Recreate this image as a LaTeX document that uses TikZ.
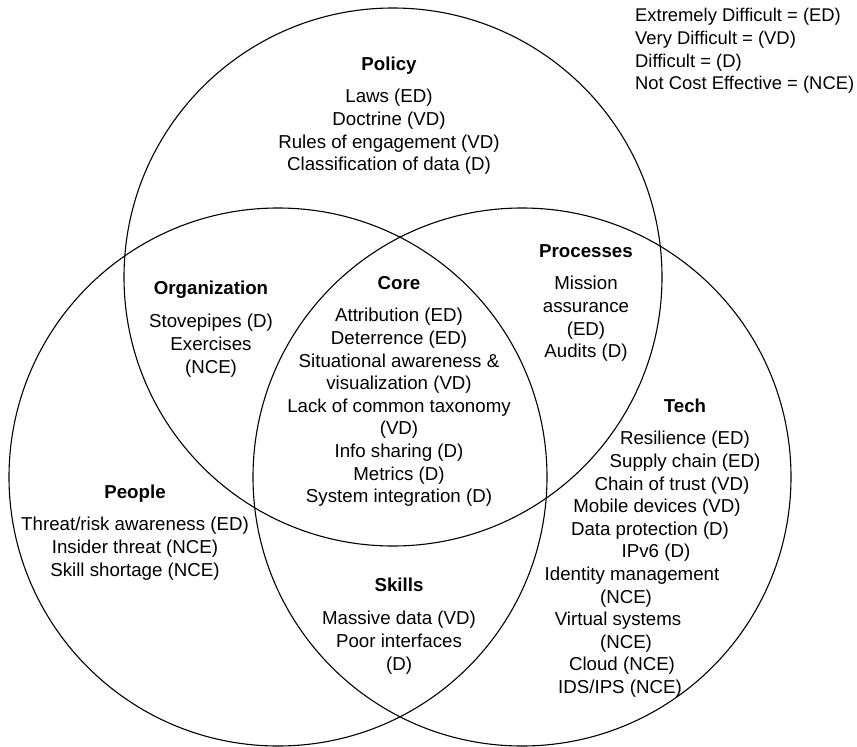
\documentclass[tikz,border=0pt]{standalone}
\usepackage{fontspec}
\setmainfont{Liberation Sans}
\tikzset{
  ring/.style={circle, draw=black, line width=1.1pt, minimum size=538pt, inner sep=0pt},
  txt/.style={inner sep=0pt, text height=13.7pt, text depth=3.9pt, font=\fontsize{18.7}{22.6}\selectfont},
  ttl/.style={txt, font=\fontsize{18.7}{22.6}\selectfont\bfseries},
  leg/.style={inner sep=0pt, text height=13.5pt, text depth=3.8pt, anchor=west, font=\fontsize{18.4}{22}\selectfont},
}
\begin{document}
\begin{tikzpicture}[x=1pt,y=-1pt]
\useasboundingbox (0,0) rectangle (857,747);
% circles
\node[ring] (cPolicy) at (393,277) {};
\node[ring] (cPeople) at (278,477) {};
\node[ring] (cTech) at (522,477) {};
% legend
\node[leg] (leg1) at (635,17) {Extremely Difficult = (ED)};
\node[leg] (leg2) at (635,40) {Very Difficult = (VD)};
\node[leg] (leg3) at (635,62.5) {Difficult = (D)};
\node[leg] (leg4) at (635,85) {Not Cost Effective = (NCE)};
% Policy
\node[ttl] (polT) at (389,66) {Policy};
\node[txt] (pol1) at (389,98) {Laws (ED)};
\node[txt] (pol2) at (389,120.6) {Doctrine (VD)};
\node[txt] (pol3) at (389,143.2) {Rules of engagement (VD)};
\node[txt] (pol4) at (389,165.8) {Classification of data (D)};
% Organization
\node[ttl] (orgT) at (211,290) {Organization};
\node[txt] (org1) at (211,323) {Stovepipes (D)};
\node[txt] (org2) at (211,345.6) {Exercises};
\node[txt] (org3) at (211,368.2) {(NCE)};
% Core
\node[ttl] (coreT) at (399,285) {Core};
\node[txt] (core1) at (399,317) {Attribution (ED)};
\node[txt] (core2) at (399,339.6) {Deterrence (ED)};
\node[txt] (core3) at (399,362.2) {Situational awareness \&};
\node[txt] (core4) at (399,384.8) {visualization (VD)};
\node[txt] (core5) at (399,407.4) {Lack of common taxonomy};
\node[txt] (core6) at (399,430) {(VD)};
\node[txt] (core7) at (399,452.6) {Info sharing (D)};
\node[txt] (core8) at (399,475.2) {Metrics (D)};
\node[txt] (core9) at (399,497.8) {System integration (D)};
% Processes
\node[ttl] (procT) at (586,253) {Processes};
\node[txt] (proc1) at (586,285) {Mission};
\node[txt] (proc2) at (586,307.6) {assurance};
\node[txt] (proc3) at (586,330.2) {(ED)};
\node[txt] (proc4) at (586,352.8) {Audits (D)};
% Tech
\node[ttl] (techT) at (685,408) {Tech};
\node[txt] (tech1) at (685,440) {Resilience (ED)};
\node[txt] (tech2) at (685,462.6) {Supply chain (ED)};
\node[txt] (tech3) at (672,485.2) {Chain of trust (VD)};
\node[txt] (tech4) at (657,507.8) {Mobile devices (VD)};
\node[txt] (tech5) at (650,530.4) {Data protection (D)};
\node[txt] (tech6) at (656,553) {IPv6 (D)};
\node[txt] (tech7) at (632,575.6) {Identity management};
\node[txt] (tech8) at (626,598.2) {(NCE)};
\node[txt] (tech9) at (618,620.8) {Virtual systems};
\node[txt] (tech10) at (626,643.4) {(NCE)};
\node[txt] (tech11) at (622,666) {Cloud (NCE)};
\node[txt] (tech12) at (620,688.6) {IDS/IPS (NCE)};
% People
\node[ttl] (pplT) at (135,494) {People};
\node[txt] (ppl1) at (135,526) {Threat/risk awareness (ED)};
\node[txt] (ppl2) at (135,548.6) {Insider threat (NCE)};
\node[txt] (ppl3) at (135,571.2) {Skill shortage (NCE)};
% Skills
\node[ttl] (sklT) at (399,587) {Skills};
\node[txt] (skl1) at (399,620) {Massive data (VD)};
\node[txt] (skl2) at (399,642.6) {Poor interfaces};
\node[txt] (skl3) at (399,665.2) {(D)};
\end{tikzpicture}
\end{document}
